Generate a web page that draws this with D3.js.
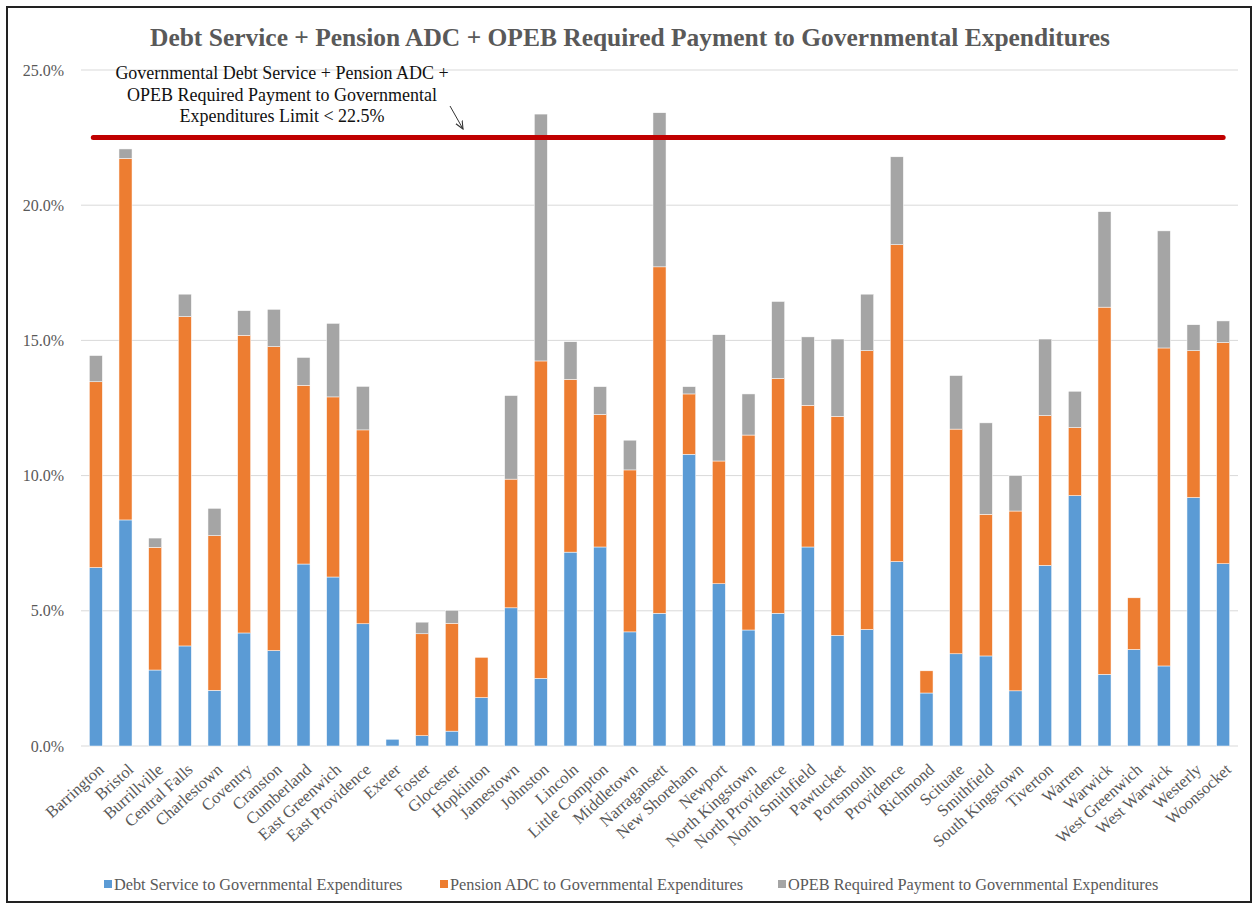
<!DOCTYPE html>
<html>
<head>
<meta charset="utf-8">
<script src="https://cdn.jsdelivr.net/npm/d3@7"></script>
<style>
  body { margin: 0; background: #fff; }
  svg text { font-family: "Liberation Serif", "Times New Roman", serif; }
</style>
</head>
<body>
<svg id="chart" width="1255" height="905"></svg>
<script>
// towns on the x axis
const towns = ["Barrington", "Bristol", "Burrillville", "Central Falls", "Charlestown", "Coventry",
  "Cranston", "Cumberland", "East Greenwich", "East Providence", "Exeter", "Foster", "Glocester",
  "Hopkinton", "Jamestown", "Johnston", "Lincoln", "Little Compton", "Middletown", "Narragansett",
  "New Shoreham", "Newport", "North Kingstown", "North Providence", "North Smithfield", "Pawtucket",
  "Portsmouth", "Providence", "Richmond", "Scituate", "Smithfield", "South Kingstown", "Tiverton",
  "Warren", "Warwick", "West Greenwich", "West Warwick", "Westerly", "Woonsocket"];

// percent of governmental expenditures
const debtService = [6.60, 8.36, 2.81, 3.70, 2.06, 4.18, 3.53, 6.73, 6.25, 4.52, 0.25, 0.38, 0.55,
  1.79, 5.11, 2.50, 7.17, 7.36, 4.22, 4.91, 10.79, 6.00, 4.29, 4.91, 7.36, 4.09, 4.31, 6.82, 1.96,
  3.41, 3.33, 2.04, 6.68, 9.26, 2.65, 3.57, 2.96, 9.19, 6.74];
const pensionADC = [6.87, 13.37, 4.54, 12.18, 5.72, 11.01, 11.24, 6.61, 6.66, 7.17, 0, 3.77, 3.99,
  1.49, 4.76, 11.74, 6.39, 4.90, 5.99, 12.81, 2.23, 4.54, 7.21, 8.68, 5.24, 8.10, 10.31, 11.72, 0.82,
  8.31, 5.24, 6.65, 5.54, 2.52, 13.58, 1.91, 11.76, 5.43, 8.18];
const opebPayment = [0.97, 0.35, 0.34, 0.83, 1.01, 0.91, 1.38, 1.03, 2.72, 1.61, 0, 0.43, 0.48,
  0, 3.09, 9.13, 1.39, 1.03, 1.10, 5.70, 0.27, 4.67, 1.52, 2.85, 2.53, 2.86, 2.09, 3.25, 0,
  1.98, 3.38, 1.31, 2.83, 1.34, 3.53, 0, 4.33, 0.96, 0.80];

const yTicks = [0, 5, 10, 15, 20, 25];
const limit = 22.5;

const seriesNames = ["Debt Service to Governmental Expenditures",
  "Pension ADC to Governmental Expenditures",
  "OPEB Required Payment to Governmental Expenditures"];
const colors = ["#5B9BD5", "#ED7D31", "#A5A5A5"];

const svg = d3.select("#chart");
const margin = { left: 81, right: 17, top: 70, bottom: 159 };
const W = 1255, H = 905;

// outer frame
svg.append("rect").attr("x", 7).attr("y", 7).attr("width", 1244).attr("height", 895)
  .attr("fill", "none").attr("stroke", "#222").attr("stroke-width", 2);

const x = d3.scaleBand().domain(towns).range([margin.left, W - margin.right]).paddingInner(0.56).paddingOuter(0.28);
const y = d3.scaleLinear().domain([0, 25]).range([H - margin.bottom, margin.top]);

// gridlines
svg.append("g").selectAll("line").data(yTicks).join("line")
  .attr("x1", margin.left).attr("x2", W - margin.right)
  .attr("y1", d => y(d)).attr("y2", d => y(d))
  .attr("stroke", "#d9d9d9").attr("stroke-width", 1);

// y axis labels
const yAxis = svg.append("g").attr("transform", `translate(${margin.left - 14},0)`)
  .call(d3.axisLeft(y).tickValues(yTicks).tickSize(0).tickFormat(d => d3.format(".1f")(d) + "%"));
yAxis.select(".domain").remove();
yAxis.selectAll("text").attr("font-size", 16).attr("fill", "#595959")
  .attr("font-family", "Liberation Serif, serif");

// stacked bars
const rows = towns.map((t, i) => ({ town: t, debt: debtService[i], pension: pensionADC[i], opeb: opebPayment[i] }));
const stack = d3.stack().keys(["debt", "pension", "opeb"])(rows);

svg.append("g").selectAll("g").data(stack).join("g")
  .attr("fill", (d, i) => colors[i])
  .selectAll("rect").data(d => d).join("rect")
  .attr("x", d => x(d.data.town))
  .attr("width", x.bandwidth())
  .attr("y", d => y(d[1]))
  .attr("height", d => Math.max(0, y(d[0]) - y(d[1])))
  .attr("stroke", "#fff").attr("stroke-width", 0.5);

// x axis labels
svg.append("g").selectAll("text").data(towns).join("text")
  .attr("transform", d => `translate(${x(d) + x.bandwidth() / 2 + 9},${y(0) + 25}) rotate(-42)`)
  .attr("text-anchor", "end")
  .attr("font-size", 16.5).attr("fill", "#595959")
  .text(d => d);

// limit line
svg.append("line")
  .attr("x1", x(towns[0]) + 4).attr("x2", x(towns[towns.length - 1]) + x.bandwidth() / 2)
  .attr("y1", y(limit)).attr("y2", y(limit))
  .attr("stroke", "#C00000").attr("stroke-width", 5).attr("stroke-linecap", "round");

// title
svg.append("text").attr("x", 630).attr("y", 46).attr("text-anchor", "middle")
  .attr("font-size", 25.5).attr("font-weight", "bold").attr("fill", "#595959")
  .attr("textLength", 960).attr("lengthAdjust", "spacingAndGlyphs")
  .text("Debt Service + Pension ADC + OPEB Required Payment to Governmental Expenditures");

// annotation
const note = ["Governmental Debt Service + Pension ADC +", "OPEB Required Payment to Governmental", "Expenditures Limit < 22.5%"];
svg.append("g").selectAll("text").data(note).join("text")
  .attr("x", 282).attr("y", (d, i) => 79 + i * 21.5)
  .attr("text-anchor", "middle").attr("font-size", 18).attr("fill", "#111")
  .text(d => d);

// arrow
svg.append("defs").append("marker").attr("id", "arr")
  .attr("viewBox", "0 0 10 10").attr("refX", 9).attr("refY", 5)
  .attr("markerWidth", 9).attr("markerHeight", 9).attr("orient", "auto")
  .append("path").attr("d", "M0,1 L9,5 L0,9").attr("fill", "none").attr("stroke", "#333").attr("stroke-width", 1.2);
svg.append("line").attr("x1", 450).attr("y1", 106).attr("x2", 463).attr("y2", 129)
  .attr("stroke", "#333").attr("stroke-width", 1).attr("marker-end", "url(#arr)");

// legend
const legendX = [104, 440, 778];
const lg = svg.append("g").selectAll("g").data(seriesNames).join("g")
  .attr("transform", (d, i) => `translate(${legendX[i]},890)`);
lg.append("rect").attr("x", 0).attr("y", -10).attr("width", 8).attr("height", 8).attr("fill", (d, i) => colors[i]);
lg.append("text").attr("x", 10).attr("y", 0).attr("font-size", 16.3).attr("fill", "#595959").text(d => d);
</script>
</body>
</html>
